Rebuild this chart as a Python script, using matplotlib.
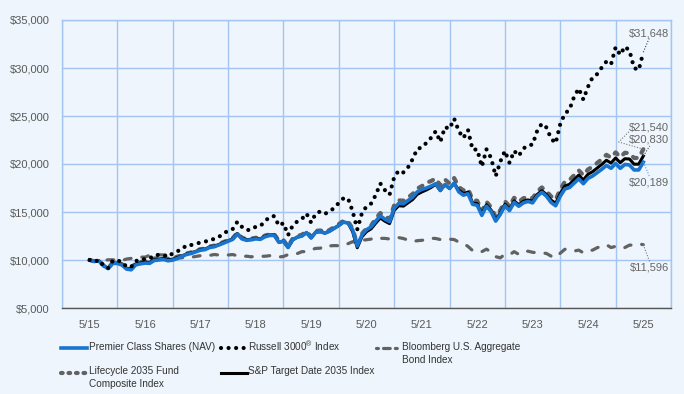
import numpy as np
import matplotlib
matplotlib.use('Agg')
import matplotlib.pyplot as plt
from matplotlib.lines import Line2D
from matplotlib.ticker import FuncFormatter
from matplotlib import font_manager

tick_labels = ['5/15', '5/16', '5/17', '5/18', '5/19', '5/20', '5/21', '5/22', '5/23', '5/24', '5/25']

# Monthly growth of $10,000 (May 2015 - May 2025)
fund = [10000, 9850, 9900, 9400, 9100, 9650, 9640, 9480, 9050, 8980,
        9500, 9600, 9680, 9650, 9950, 10000, 10050, 9920, 9990, 10150,
        10380, 10580, 10680, 10850, 11020, 11080, 11300, 11380, 11560, 11750,
        11950, 12150, 12700, 12200, 12050, 12100, 12200, 12150, 12420, 12550,
        12570, 11850, 11950, 11300, 12100, 12380, 12500, 12850, 12300, 12900,
        12950, 12800, 13000, 13300, 13600, 13950, 13850, 13150, 11450, 12600,
        13150, 13450, 14050, 14600, 14250, 14000, 15400, 15900, 15850, 16200,
        16550, 17100, 17350, 17500, 17700, 17950, 17250, 17850, 17450, 18000,
        17100, 16750, 16900, 15800, 15700, 14650, 15600, 15050, 14050, 14750,
        15650, 15150, 16000, 15600, 15950, 16100, 15950, 16650, 17050, 16650,
        16000, 15650, 16650, 17400, 17550, 18000, 18450, 17950, 18500, 18750,
        19100, 19450, 19850, 19550, 20050, 19550, 19950, 19900, 19380, 19380,
        20189]

russell = [10000, 9806, 10007, 9403, 9164, 9929, 9955, 9791, 9297, 9283,
           9910, 9946, 10121, 10147, 10518, 10525, 10520, 10326, 10703, 10913,
           11115, 11554, 11561, 11671, 11829, 11895, 12139, 12171, 12421, 12701,
           13089, 13227, 13975, 13452, 13110, 13156, 13467, 13541, 14036, 14493,
           14573, 13576, 13841, 12590, 13591, 14019, 14280, 14844, 13888, 14854,
           15055, 14807, 15082, 15406, 15954, 16425, 16418, 15065, 13191, 14873,
           15580, 15884, 16767, 17966, 17275, 16801, 18624, 19324, 19122, 19648,
           20503, 21580, 21722, 22211, 22734, 23406, 22296, 23846, 23668, 24722,
           23425, 22713, 23542, 21485, 21518, 19723, 21528, 20636, 18729, 20237,
           21361, 20112, 21370, 20847, 21608, 21944, 22022, 23464, 24204, 23806,
           22654, 22167, 24173, 25250, 25667, 27015, 27867, 26712, 28035, 29030,
           29366, 30056, 30674, 30384, 32162, 31375, 32238, 31805, 30011, 29786,
           31648]

bond = [10000, 9890, 9960, 9950, 10020, 10020, 9990, 9960, 10100, 10170,
        10260, 10300, 10300, 10490, 10550, 10540, 10530, 10450, 10200, 10210,
        10230, 10300, 10290, 10370, 10450, 10440, 10480, 10570, 10520, 10530,
        10520, 10570, 10440, 10340, 10400, 10330, 10400, 10390, 10390, 10450,
        10390, 10310, 10370, 10560, 10680, 10670, 10870, 10870, 11070, 11210,
        11230, 11530, 11470, 11500, 11490, 11480, 11700, 11910, 11840, 12050,
        12110, 12180, 12360, 12260, 12250, 12190, 12310, 12330, 12240, 12070,
        11920, 12010, 12050, 12130, 12270, 12240, 12130, 12130, 12170, 12130,
        11870, 11740, 11410, 10980, 11050, 10870, 11130, 10820, 10350, 10220,
        10600, 10540, 10870, 10590, 10850, 10920, 10800, 10760, 10750, 10680,
        10410, 10250, 10710, 11120, 11090, 10930, 11030, 10750, 10930, 11030,
        11280, 11440, 11590, 11300, 11420, 11240, 11300, 11550, 11550, 11680,
        11596]

lifecycle = [10000, 9860, 9920, 9440, 9150, 9710, 9710, 9560,
             9230, 9160, 9690, 9790, 9870, 9840, 10150, 10200, 10250, 10120, 10190, 10350,
             10480, 10690, 10790, 10960, 11130, 11190, 11410, 11490, 11680, 11870,
             12070, 12270, 12830, 12320, 12170, 12220, 12320, 12270, 12540, 12680, 12700,
             11970, 12070, 11410, 12220, 12500, 12630, 12980, 12420, 13030, 13080,
             12930, 13130, 13430, 13740, 14090, 13990,
             13280, 11560, 12730, 13280, 13580,
             14330, 14890, 14540, 14280, 15710, 16220, 16170, 16520, 16880, 17440, 17700,
             18030, 18230, 18490, 17770, 18390, 17970, 18540,
             17610, 17250, 17410, 16270, 16170, 15090, 16070, 15500, 14470, 15190,
             16120, 15600, 16480, 16070, 16430, 16580, 16430, 17150, 17560, 17150,
             16640, 16290, 17350, 18170, 18340, 18830, 19340, 18830, 19430, 19720,
             20110, 20500, 20960, 20660, 21210, 20720, 21170, 21130, 20620, 20640,
             21540]

sp_td = [10000, 9860, 9920, 9430, 9140, 9690, 9690, 9530,
         9140, 9070, 9600, 9700, 9780, 9750, 10050, 10100, 10150, 10020, 10090, 10250,
         10430, 10630, 10730, 10900, 11080, 11140, 11360, 11440, 11620, 11810,
         12010, 12210, 12760, 12260, 12110, 12160, 12260, 12210, 12480, 12610, 12630,
         11850, 11950, 11300, 12100, 12380, 12500, 12850, 12300, 12900, 12950,
         12800, 13000, 13300, 13600, 13950, 13850,
         12950, 11280, 12410, 12950, 13250, 13840, 14380, 14040, 13790, 15170,
         15660, 15610, 15960, 16300, 16840, 17090,
         17300, 17560, 17880, 17220, 17850, 17450, 18000,
         17270, 16920, 17070, 15960, 15860, 14800, 15760, 15200, 14190, 14900,
         15810, 15300, 16160, 15760, 16110, 16260, 16110, 16820, 17220, 16820,
         16240, 15900, 16930, 17710, 17880, 18360, 18840, 18340, 18930, 19200,
         19580, 19960, 20390, 20100, 20630, 20140, 20550, 20520, 19980, 19980,
         20830]

series_names = ['Premier Class Shares (NAV)', r'Russell 3000$^{\circledR}$ Index',
                'Bloomberg U.S. Aggregate\nBond Index',
                'Lifecycle 2035 Fund\nComposite Index', 'S&P Target Date 2035 Index']

BG = '#EEF5FC'
GRID = '#A4C5EF'
BLUE = '#1874CD'
GRAY = '#626262'
TXT = '#595959'

names = {f.name for f in font_manager.fontManager.ttflist}
base_font = 'Liberation Sans' if 'Liberation Sans' in names else 'DejaVu Sans'
if 'Liberation Sans Narrow' in names:
    narrow_font, leg_size = 'Liberation Sans Narrow', 8
else:
    narrow_font, leg_size = base_font, 7.2
plt.rcParams['font.family'] = [base_font, 'DejaVu Sans']
plt.rcParams['mathtext.fontset'] = 'custom'
plt.rcParams['mathtext.rm'] = base_font

W, H = 684, 394
fig = plt.figure(figsize=(W / 100, H / 100), dpi=100, facecolor=BG)
ax = fig.add_axes([62 / W, 1 - 308 / H, (671 - 62) / W, (308 - 20) / H])
ax.set_facecolor(BG)

months = np.arange(len(fund)) / 12.0

RUSS_LS = (0, (0.01, 1.8))
ax.plot(months, bond, color=GRAY, lw=2.3, linestyle=(0, (2.1, 3.4)),
        dash_capstyle='round', zorder=3)
ax.plot(months, lifecycle, color=GRAY, lw=3.0, linestyle=(0, (1.0, 1.9)),
        dash_capstyle='round', zorder=4)
ax.plot(months, sp_td, color='black', lw=2.2, zorder=5, solid_joinstyle='round')
ax.plot(months, fund, color=BLUE, lw=2.6, zorder=6, solid_joinstyle='round')
ax.plot(months, russell, color='black', lw=3.0, linestyle=RUSS_LS,
        dash_capstyle='round', zorder=7)

ax.set_xlim(-0.5, 10.5)
ax.set_ylim(5000, 35000)
ax.set_xticks(np.arange(len(tick_labels)))
ax.set_xticklabels(tick_labels)
ax.set_xticks(np.arange(-0.5, 10.6, 1.0), minor=True)
ax.set_yticks(np.arange(5000, 35001, 5000))
ax.yaxis.set_major_formatter(FuncFormatter(lambda v, p: f'${v:,.0f}'))
ax.grid(which='minor', axis='x', color=GRID, lw=1.0)
ax.grid(which='major', axis='y', color=GRID, lw=1.0)
ax.grid(which='major', axis='x', visible=False)
ax.tick_params(which='both', length=0)
ax.tick_params(axis='both', pad=9, labelsize=8, labelcolor=TXT)
for s in ['left', 'top', 'right']:
    ax.spines[s].set_color(GRID)
    ax.spines[s].set_linewidth(1.0)
ax.spines['bottom'].set_color('#555555')
ax.spines['bottom'].set_linewidth(1.0)
ax.set_axisbelow(True)

# End labels
def px2data(px, py):
    return (px - 90) / 55.36, (308 - py) / 9.6 * 1000 + 5000

lab_kw = dict(fontsize=8, color='#666666', ha='right', va='center', zorder=8)
xe = months[-1]
tx, ty = px2data(669, 34)
ax.text(tx, ty, f'${russell[-1]:,.0f}', **lab_kw)
lx, ly = px2data(650, 37)
ax.plot([xe, lx], [russell[-1], ly], color='#444444', lw=0.8, ls=(0, (1, 1.5)), zorder=8)

tx, ty = px2data(669, 128)
ax.text(tx, ty, f'${lifecycle[-1]:,.0f}', **lab_kw)
mx, my = px2data(619, 142)
lx, ly = px2data(630, 131)
ax.plot([xe, mx, lx], [lifecycle[-1], my, ly], color='#777777', lw=0.8, ls=(0, (1, 1.5)), zorder=8)

tx, ty = px2data(669, 140)
ax.text(tx, ty, f'${sp_td[-1]:,.0f}', **lab_kw)
lx, ly = px2data(650, 146)
ax.plot([xe, lx], [sp_td[-1], ly], color='#444444', lw=0.8, ls=(0, (1, 1.5)), zorder=8)

tx, ty = px2data(669, 183)
ax.text(tx, ty, f'${fund[-1]:,.0f}', **lab_kw)
lx, ly = px2data(650, 177)
ax.plot([xe, lx], [fund[-1], ly], color='#5FA0E0', lw=0.8, ls=(0, (1, 1.5)), zorder=8)

tx, ty = px2data(669, 268)
ax.text(tx, ty, f'${bond[-1]:,.0f}', **lab_kw)
lx, ly = px2data(650, 262)
ax.plot([xe, lx], [bond[-1], ly], color='#777777', lw=0.8, ls=(0, (1, 1.5)), zorder=8)

# Legend (manual)
def fx(px):
    return px / W

def fy(py):
    return 1 - py / H

handles = [
    dict(x0=61, x1=87, y=348, color=BLUE, lw=2.6, ls='-', name=series_names[0], tx=89, dy=0),
    dict(x0=221, x1=246, y=348, color='black', lw=3.0, ls=RUSS_LS, name=series_names[1], tx=248, dy=-2.5),
    dict(x0=376, x1=400, y=348, color=GRAY, lw=2.3, ls=(0, (0.6, 1.6, 2.1, 1.6)), name=series_names[2], tx=402, dy=0),
    dict(x0=61, x1=87, y=372.5, color=GRAY, lw=3.0, ls=(0, (0.4, 1.4)), name=series_names[3], tx=89, dy=0),
    dict(x0=221, x1=247, y=372.5, color='black', lw=2.2, ls='-', name=series_names[4], tx=248, dy=0),
]
for h in handles:
    ln = Line2D([fx(h['x0']), fx(h['x1'])], [fy(h['y']), fy(h['y'])], transform=fig.transFigure,
                color=h['color'], lw=h['lw'], linestyle=h['ls'], dash_capstyle='round')
    fig.add_artist(ln)
    fig.text(fx(h['tx']), fy(h['y'] - 6.0 + h['dy']), h['name'], ha='left', va='top', fontsize=leg_size,
             color='#333333', family=[narrow_font, 'DejaVu Sans'], linespacing=1.35)

fig.savefig('out.png', dpi=100, facecolor=BG)
